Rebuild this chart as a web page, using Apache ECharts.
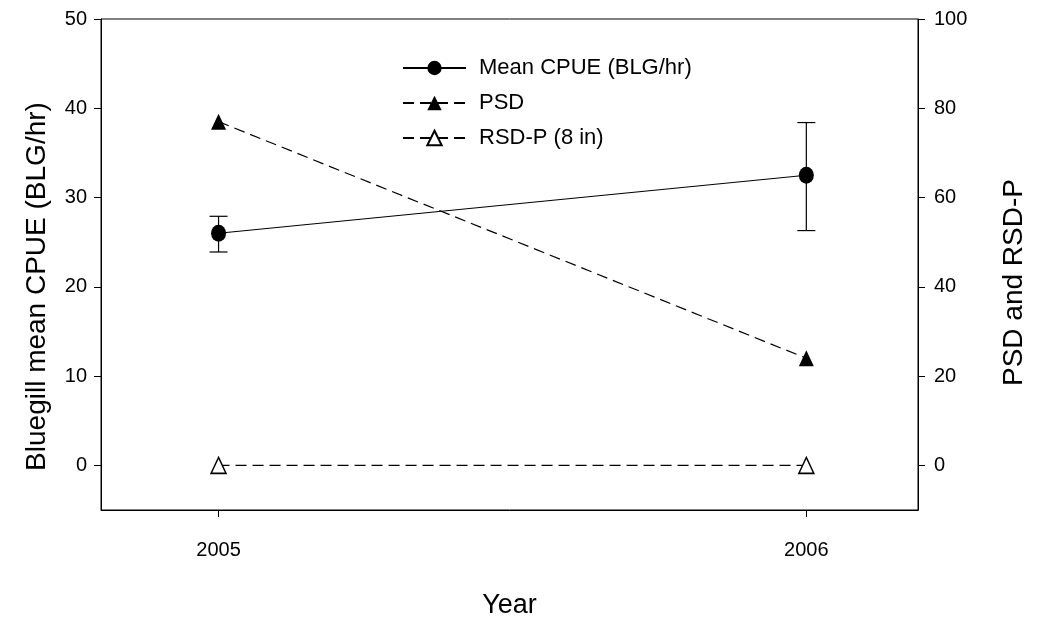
<!DOCTYPE html>
<html>
<head>
<meta charset="utf-8">
<script src="https://cdn.jsdelivr.net/npm/echarts@6/dist/echarts.min.js"></script>
<style>
  html, body { margin: 0; padding: 0; background: #fff; }
  #chart { width: 1037px; height: 622px; }
</style>
</head>
<body>
<div id="chart"></div>
<script>
// data
var years = [2005, 2006];
var cpueMean = [26.0, 32.5];
var cpueLow = [23.9, 26.3];
var cpueHigh = [27.9, 38.4];
var psd = [77, 24];
var rsdP = [0, 0];

var yearTicks = [2005, 2006];
var leftTicks = [0, 10, 20, 30, 40, 50];
var rightTicks = [0, 20, 40, 60, 80, 100];

var FONT = "'Liberation Sans', Arial, sans-serif";

function pairs(xs, ys) {
    var out = [];
    for (var i = 0; i < xs.length; i++) out.push([xs[i], ys[i]]);
    return out;
}

var errData = [];
for (var i = 0; i < years.length; i++) {
    errData.push([years[i], cpueLow[i], cpueHigh[i]]);
}

var myChart = echarts.init(document.getElementById('chart'), null, { renderer: 'canvas' });

var axisLineStyle = { color: '#000', width: 1 };

var option = {
    backgroundColor: '#fff',
    animation: false,
    textStyle: { fontFamily: FONT, color: '#000' },
    grid: {
        left: 101, right: 119, top: 19, bottom: 112,
        outerBoundsMode: 'none',
        containLabel: false,
        show: true, borderColor: '#000', borderWidth: 1
    },
    legend: {
        orient: 'vertical',
        left: 397,
        top: 52,
        itemWidth: 63,
        itemHeight: 18,
        itemGap: 13,
        data: ['Mean CPUE (BLG/hr)', 'PSD', 'RSD-P (8 in)'],
        textStyle: { fontFamily: FONT, fontSize: 22, color: '#000', padding: [0, 0, 0, 8] }
    },
    xAxis: {
        type: 'value',
        min: 2004.8,
        max: 2006.19,
        name: 'Year',
        nameLocation: 'middle',
        nameGap: 82,
        nameTextStyle: { fontFamily: FONT, fontSize: 27, color: '#000' },
        axisLine: { show: true, onZero: false, lineStyle: axisLineStyle },
        axisTick: { show: true, length: 7, customValues: yearTicks, lineStyle: axisLineStyle },
        axisLabel: {
            customValues: yearTicks, margin: 30, fontSize: 20, color: '#000', fontFamily: FONT,
            formatter: function(v) { return String(v); }
        },
        splitLine: { show: false }
    },
    yAxis: [{
        type: 'value',
        position: 'left',
        min: -5,
        max: 50,
        name: 'Bluegill mean CPUE (BLG/hr)',
        nameLocation: 'middle',
        nameRotate: 90,
        nameGap: 50,
        nameTextStyle: { fontFamily: FONT, fontSize: 28, color: '#000', padding: [0, 44, 0, 0] },
        axisLine: { show: true, lineStyle: axisLineStyle },
        axisTick: { show: true, length: 7, customValues: leftTicks, lineStyle: axisLineStyle },
        axisLabel: { customValues: leftTicks, margin: 14, fontSize: 20, color: '#000', fontFamily: FONT },
        splitLine: { show: false }
    }, {
        type: 'value',
        position: 'right',
        min: -10,
        max: 100,
        name: 'PSD and RSD-P',
        nameLocation: 'middle',
        nameRotate: 90,
        nameGap: 82,
        nameTextStyle: { fontFamily: FONT, fontSize: 28, color: '#000', padding: [0, 36, 0, 0] },
        axisLine: { show: true, lineStyle: axisLineStyle },
        axisTick: { show: true, length: 7, customValues: rightTicks, lineStyle: axisLineStyle },
        axisLabel: { customValues: rightTicks, margin: 16, fontSize: 20, color: '#000', fontFamily: FONT },
        splitLine: { show: false }
    }],
    series: [
        {
            name: 'CPUE error',
            type: 'custom',
            yAxisIndex: 0,
            z: 1,
            data: errData,
            renderItem: function(params, api) {
                var x = api.value(0);
                var lo = api.coord([x, api.value(1)]);
                var hi = api.coord([x, api.value(2)]);
                var cap = 9;
                var st = { stroke: '#000', lineWidth: 1.2 };
                return {
                    type: 'group',
                    children: [
                        { type: 'line', shape: { x1: lo[0], y1: lo[1], x2: hi[0], y2: hi[1] }, style: st },
                        { type: 'line', shape: { x1: hi[0] - cap, y1: hi[1], x2: hi[0] + cap, y2: hi[1] }, style: st },
                        { type: 'line', shape: { x1: lo[0] - cap, y1: lo[1], x2: lo[0] + cap, y2: lo[1] }, style: st }
                    ]
                };
            }
        },
        {
            name: 'Mean CPUE (BLG/hr)',
            type: 'line',
            yAxisIndex: 0,
            z: 3,
            data: pairs(years, cpueMean),
            symbol: 'circle',
            symbolSize: [15, 17],
            lineStyle: { color: '#000', width: 1.2 },
            itemStyle: { color: '#000' }
        },
        {
            name: 'PSD',
            type: 'line',
            yAxisIndex: 1,
            z: 3,
            data: pairs(years, psd),
            symbol: 'triangle',
            symbolSize: [15, 16],
            lineStyle: { color: '#000', width: 1.2, type: [11, 6] },
            itemStyle: { color: '#000' }
        },
        {
            name: 'RSD-P (8 in)',
            type: 'line',
            yAxisIndex: 1,
            z: 3,
            data: pairs(years, rsdP),
            symbol: 'triangle',
            symbolSize: [15, 16],
            lineStyle: { color: '#000', width: 1.2, type: [11, 6] },
            itemStyle: { color: '#fff', borderColor: '#000', borderWidth: 1.5 }
        }
    ]
};

myChart.setOption(option);
</script>
</body>
</html>
